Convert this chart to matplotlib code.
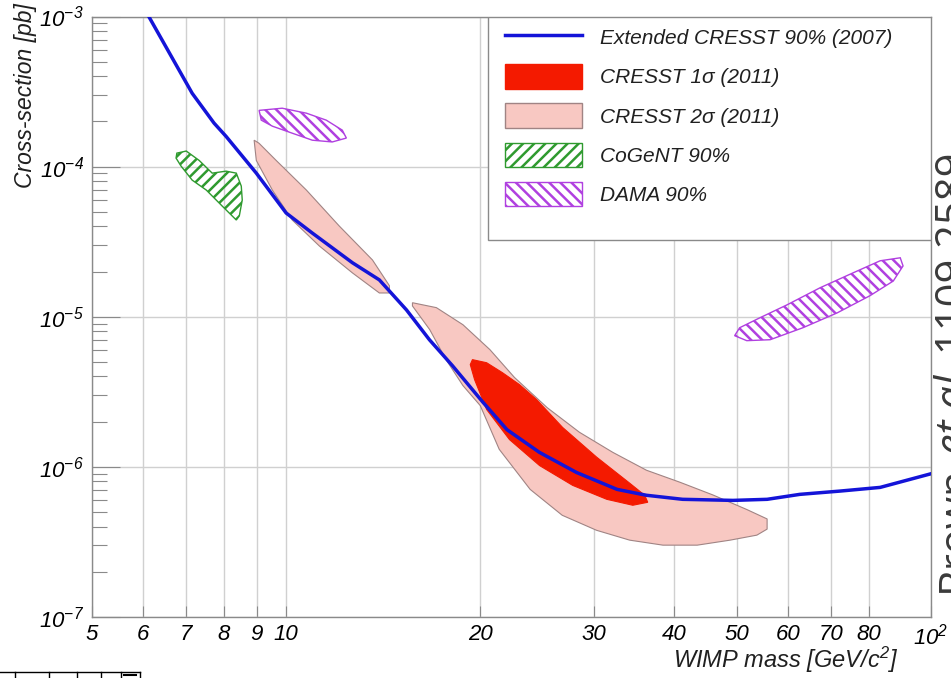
"""CRESST 2011 signal regions vs. extended CRESST 2007 limit, CoGeNT and DAMA."""

import matplotlib
matplotlib.use("Agg")
import matplotlib.pyplot as plt
from matplotlib.lines import Line2D
from matplotlib.patches import Patch, Rectangle
from matplotlib.ticker import FixedLocator, LogLocator, NullFormatter, NullLocator, LogFormatterMathtext

plt.rcParams["font.family"] = ["Liberation Sans", "DejaVu Sans"]
plt.rcParams["font.style"] = "italic"
plt.rcParams["mathtext.fontset"] = "custom"
plt.rcParams["mathtext.rm"] = "Liberation Sans:italic"
plt.rcParams["mathtext.it"] = "Liberation Sans:italic"
plt.rcParams["mathtext.default"] = "it"
plt.rcParams["hatch.linewidth"] = 1.8

# WIMP mass [GeV], cross-section [pb]
cresst07_mass = [6.1, 7.15, 7.73, 8.07, 8.99, 10.0, 10.98, 12.67, 13.95, 15.37, 16.68, 18.11,
                 20.2, 22.0, 24.7, 28.2, 32.6, 36.2, 41.2, 49.3, 55.7, 62.6, 72.3, 83.4, 100]
cresst07_xsec = [1.03e-3, 3.08e-4, 1.95e-4, 1.59e-4, 9.05e-5, 4.91e-5, 3.61e-5, 2.29e-5, 1.76e-5,
                 1.11e-5, 7.03e-6, 4.72e-6, 2.69e-6, 1.77e-6, 1.25e-6, 9.18e-7, 7.08e-7, 6.47e-7,
                 6.08e-7, 5.98e-7, 6.08e-7, 6.56e-7, 6.9e-7, 7.3e-7, 9.0e-7]

sigma2_low_mass = [8.92, 9.08, 9.65, 10.75, 12.09, 13.61, 14.46, 14.46, 13.95, 12.67, 11.26, 10.22, 9.52, 8.99]
sigma2_low_xsec = [1.50e-4, 1.43e-4, 1.10e-4, 6.98e-5, 4.02e-5, 2.39e-5, 1.61e-5, 1.44e-5, 1.44e-5,
                   1.96e-5, 2.96e-5, 4.41e-5, 6.98e-5, 1.10e-4]

sigma2_high_mass = [15.7, 17.1, 18.8, 20.7, 22.6, 25.4, 28.5, 32.1, 36.2, 40.8, 45.9, 51.8, 55.7, 55.7,
                    53.7, 48.8, 43.4, 38.4, 34.1, 30.3, 26.8, 23.9, 21.4, 20.0, 18.8, 17.7, 16.7, 15.7]
sigma2_high_xsec = [1.24e-5, 1.15e-5, 8.85e-6, 6.04e-6, 3.94e-6, 2.48e-6, 1.70e-6, 1.25e-6, 9.5e-7,
                    7.9e-7, 6.5e-7, 5.2e-7, 4.5e-7, 3.85e-7, 3.51e-7, 3.25e-7, 3.01e-7, 3.01e-7,
                    3.25e-7, 3.78e-7, 4.76e-7, 7.08e-7, 1.31e-6, 2.56e-6, 3.48e-6, 5.18e-6, 8.2e-6, 1.18e-5]

sigma1_mass = [19.45, 20.46, 21.65, 23.01, 24.45, 26.84, 30.31, 34.12, 35.98, 36.37, 34.48, 31.42,
               27.82, 24.72, 22.2, 20.46, 19.6, 19.3]
sigma1_xsec = [5.18e-6, 4.94e-6, 4.24e-6, 3.53e-6, 2.81e-6, 1.83e-6, 1.16e-6, 7.77e-7, 6.47e-7,
               5.81e-7, 5.55e-7, 6.08e-7, 7.53e-7, 1.02e-6, 1.52e-6, 2.41e-6, 3.81e-6, 4.8e-6]

cogent_mass = [6.75, 6.77, 7.0, 7.33, 7.68, 8.07, 8.37, 8.52, 8.55, 8.46, 8.37, 7.96, 7.52, 7.15, 6.87]
cogent_xsec = [1.14e-4, 1.23e-4, 1.27e-4, 1.10e-4, 9.05e-5, 9.33e-5, 9.05e-5, 7.42e-5, 5.99e-5,
               4.69e-5, 4.41e-5, 5.46e-5, 6.98e-5, 8.13e-5, 1.01e-4]

dama_low_mass = [9.08, 9.86, 10.75, 11.54, 12.22, 12.40, 11.79, 10.98, 10.22, 9.52, 9.15]
dama_low_xsec = [2.37e-4, 2.45e-4, 2.27e-4, 2.04e-4, 1.75e-4, 1.55e-4, 1.46e-4, 1.50e-4, 1.67e-4, 1.86e-4, 2.04e-4]

dama_high_mass = [49.6, 51.8, 56.3, 63.3, 71.5, 80.4, 87.4, 90.5, 89.6, 83.4, 75.7, 67.3, 59.8, 54.3, 50.5]
dama_high_xsec = [7.48e-6, 6.93e-6, 7.03e-6, 8.45e-6, 1.06e-5, 1.38e-5, 1.73e-5, 2.18e-5, 2.47e-5,
                  2.36e-5, 1.96e-5, 1.56e-5, 1.20e-5, 9.85e-6, 8.45e-6]

x_ticks = [5, 6, 7, 8, 9, 10, 20, 30, 40, 50, 60, 70, 80, 100]
x_tick_labels = ["5", "6", "7", "8", "9", "10", "20", "30", "40", "50", "60", "70", "80", r"$10^{2}$"]

legend_labels = ["Extended CRESST 90% (2007)", "CRESST 1σ (2011)", "CRESST 2σ (2011)",
                 "CoGeNT 90%", "DAMA 90%"]

BLUE = "#1414d8"
RED = "#f41a00"
PINK = "#f8c8c2"
PINK_EDGE = "#a08484"
GREEN = "#2f9a2f"
PURPLE = "#b040e0"
GRID = "#d0d0d0"
FRAME = "#8a8a8a"


def main():
    fig = plt.figure(figsize=(9.51, 6.78), dpi=100)
    W, H = 951, 678
    ax = fig.add_axes([92 / W, 1 - 617 / H, 839 / W, 600.5 / H])
    ax.set_xscale("log")
    ax.set_yscale("log")
    ax.set_xlim(5, 100)
    ax.set_ylim(1e-7, 1e-3)

    ax.fill(sigma2_low_mass, sigma2_low_xsec, facecolor=PINK, edgecolor=PINK_EDGE, lw=0.8, zorder=2)
    ax.fill(sigma2_high_mass, sigma2_high_xsec, facecolor=PINK, edgecolor=PINK_EDGE, lw=0.8, zorder=2)
    ax.fill(sigma1_mass, sigma1_xsec, facecolor=RED, edgecolor=RED, lw=0.8, zorder=2.1)
    ax.fill(cogent_mass, cogent_xsec, facecolor="none", edgecolor=GREEN, hatch="///", lw=1, zorder=2.2)
    ax.fill(dama_low_mass, dama_low_xsec, facecolor="none", edgecolor=PURPLE, hatch="\\\\\\", lw=1, zorder=2.2)
    ax.fill(dama_high_mass, dama_high_xsec, facecolor="none", edgecolor=PURPLE, hatch="\\\\\\", lw=1, zorder=2.2)
    ax.plot(cresst07_mass, cresst07_xsec, color=BLUE, lw=2.5, zorder=3)

    # axes, ticks and grid in ROOT style
    ax.xaxis.set_major_locator(FixedLocator(x_ticks))
    ax.xaxis.set_minor_locator(NullLocator())
    ax.set_xticklabels(x_tick_labels)
    ax.yaxis.set_major_locator(LogLocator(base=10, numticks=10))
    ax.yaxis.set_major_formatter(LogFormatterMathtext())
    ax.yaxis.set_minor_locator(LogLocator(base=10, subs=range(2, 10), numticks=20))
    ax.yaxis.set_minor_formatter(NullFormatter())
    ax.tick_params(axis="x", which="major", direction="in", length=8, width=0.8,
                   color=FRAME, labelsize=16, pad=5)
    ax.tick_params(axis="y", which="major", direction="in", length=20, width=0.8,
                   color=FRAME, labelsize=16, pad=6)
    ax.tick_params(axis="y", which="minor", direction="in", length=11, width=0.8, color=FRAME)
    ax.grid(True, which="major", color=GRID, lw=1)
    ax.set_axisbelow(True)
    for spine in ax.spines.values():
        spine.set_color(FRAME)
        spine.set_linewidth(1)

    # legend: own frame, entries placed inside it
    ax.add_patch(Rectangle((0.472, 0.628), 0.528, 0.372, transform=ax.transAxes,
                           facecolor="white", edgecolor=FRAME, lw=1, zorder=4))
    handles = [
        Line2D([], [], color=BLUE, lw=2.5),
        Patch(facecolor=RED, edgecolor=RED),
        Patch(facecolor=PINK, edgecolor=PINK_EDGE),
        Patch(facecolor="white", edgecolor=GREEN, hatch="///"),
        Patch(facecolor="white", edgecolor=PURPLE, hatch="\\\\\\"),
    ]
    leg = ax.legend(handles, legend_labels, loc="upper left",
                    bbox_to_anchor=((505 - 92) / 839, 1 - (25 - 16.5) / 600.5),
                    frameon=False, borderpad=0, borderaxespad=0, fontsize=15,
                    handlelength=3.7, handleheight=1.44, labelspacing=0.7, handletextpad=0.86)
    leg.set_zorder(5)
    for t in leg.get_texts():
        t.set_color("#202020")

    fig.text(26 / W, 1 - 3 / H, "Cross-section [pb]", rotation=90, ha="center", va="top",
             fontsize=16.5, color="#202020")
    fig.text(898 / W, 1 - 660 / H, "WIMP mass [GeV/c$^{2}$]", ha="right", va="center",
             fontsize=17, color="#202020")

    # citation written up the right edge (cut off by the crop)
    renderer = fig.canvas.get_renderer()
    y0 = 1 - 592 / H
    for part, style in [("Brown", "normal"), (" et al.", "italic"), (" 1109.2589", "normal")]:
        t = fig.text(934 / W, y0, part, rotation=90, ha="left", va="bottom", fontsize=30,
                     family="Open Sans", style=style, color="#3a3a3a")
        y0 += t.get_window_extent(renderer).height / fig.bbox.height

    # remains of a table from the slide at the bottom-left corner
    fig.add_artist(Line2D([0, 140 / W], [1 - 672 / H] * 2, transform=fig.transFigure, color="k", lw=1))
    for xp in [15, 49, 77, 101, 121, 140]:
        fig.add_artist(Line2D([xp / W] * 2, [0, 1 - 672 / H], transform=fig.transFigure, color="k", lw=1))
    fig.add_artist(Line2D([124 / W, 136 / W], [1 - 675 / H] * 2, transform=fig.transFigure, color="k", lw=1.5))

    fig.savefig("out.png", dpi=100)


if __name__ == "__main__":
    main()
